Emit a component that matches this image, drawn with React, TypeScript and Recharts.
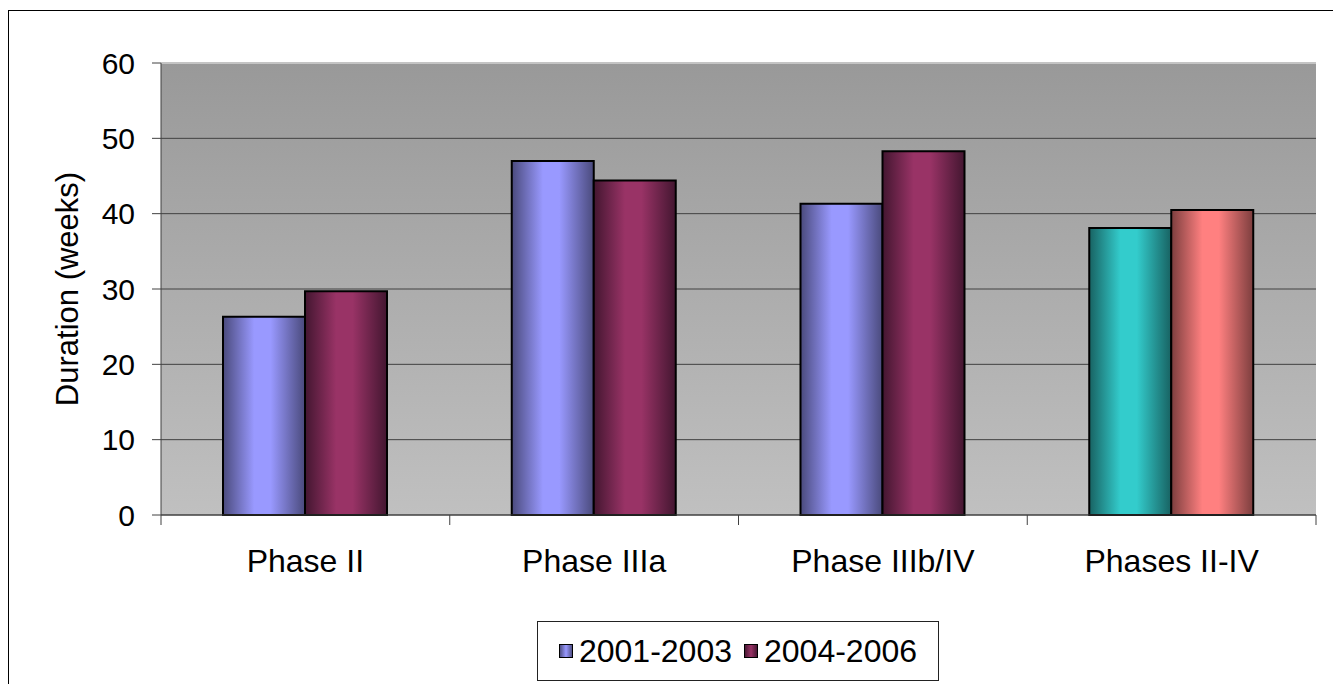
import React from "react"
import { Bar, BarChart, CartesianGrid, Cell, Legend, ReferenceLine, XAxis, YAxis } from "recharts"

const phases = ["Phase II", "Phase IIIa", "Phase IIIb/IV", "Phases II-IV"]
const period1 = [26.3, 47.0, 41.3, 38.1]
const period2 = [29.7, 44.4, 48.3, 40.5]
const seriesNames = ["2001-2003", "2004-2006"]
const yTicks = [0, 10, 20, 30, 40, 50, 60]

const data = phases.map((phase, i) => ({
  phase,
  p1: period1[i],
  p2: period2[i],
}))

const W = 1324
const H = 672
const margin = { top: 52, right: 17, left: 0, bottom: 2 }
const Y_W = 152
const PLOT_W = W - margin.left - margin.right - Y_W
const FONT = "'Liberation Sans', Arial, sans-serif"

const gradients = [
  { id: "gBlue", light: "#9999ff", dark: "#4a4a7c" },
  { id: "gRed", light: "#993366", dark: "#431630" },
  { id: "gTeal", light: "#33cccc", dark: "#186262" },
  { id: "gSalmon", light: "#ff8080", dark: "#7c3e3e" },
]

function CategoryTick(props: any) {
  const { x, y, payload, index } = props
  const half = PLOT_W / phases.length / 2
  return (
    <g>
      <line x1={x - half} x2={x - half} y1={y} y2={y + 10} stroke="#404040" />
      {index === phases.length - 1 && (
        <line x1={x + half} x2={x + half} y1={y} y2={y + 10} stroke="#404040" />
      )}
      <text x={x} y={y + 57} textAnchor="middle" fontSize={32} fill="#000" fontFamily={FONT}>
        {payload.value}
      </text>
    </g>
  )
}

function YLabel(props: any) {
  const { viewBox } = props
  const cx = viewBox.x + 58
  const cy = viewBox.y + viewBox.height / 2
  return (
    <text
      x={cx}
      y={cy}
      transform={`rotate(-90 ${cx} ${cy})`}
      textAnchor="middle"
      dominantBaseline="central"
      fontSize={31}
      fill="#000"
      fontFamily={FONT}
    >
      Duration (weeks)
    </text>
  )
}

function LegendBox() {
  const swatch = (g: string) => (
    <svg width={14} height={14} style={{ marginRight: 6 }}>
      <rect x={0.5} y={0.5} width={13} height={13} fill={`url(#${g}L)`} stroke="#000" />
      <defs>
        <linearGradient id={`${g}L`} x1="0" y1="0" x2="1" y2="0">
          {gradients
            .filter((d) => d.id === g)
            .map((d) => [
              <stop key="a" offset="0%" stopColor={d.dark} />,
              <stop key="b" offset="50%" stopColor={d.light} />,
              <stop key="c" offset="100%" stopColor={d.dark} />,
            ])}
        </linearGradient>
      </defs>
    </svg>
  )
  return (
    <div
      style={{
        boxSizing: "border-box",
        width: 402,
        height: 60,
        border: "1px solid #222",
        background: "#fff",
        display: "flex",
        alignItems: "center",
        justifyContent: "center",
        fontFamily: FONT,
        fontSize: 32,
        color: "#000",
      }}
    >
      {swatch("gBlue")}
      <span style={{ marginRight: 12 }}>{seriesNames[0]}</span>
      {swatch("gRed")}
      <span>{seriesNames[1]}</span>
    </div>
  )
}

export default function App() {
  return (
    <div
      style={{
        position: "fixed",
        left: 8,
        top: 10,
        width: 1340,
        height: 700,
        border: "1px solid #000",
        background: "#fff",
        fontFamily: FONT,
      }}
    >
      <BarChart width={W} height={H} data={data} margin={margin} barCategoryGap={62} barGap={0}>
        <defs>
          <linearGradient id="bgGrad" x1="0" y1="0" x2="0" y2="1">
            <stop offset="0%" stopColor="#999999" />
            <stop offset="100%" stopColor="#c0c0c0" />
          </linearGradient>
          {gradients.map((g) => (
            <linearGradient key={g.id} id={g.id} x1="0" y1="0" x2="1" y2="0">
              <stop offset="0%" stopColor={g.dark} />
              <stop offset="38%" stopColor={g.light} />
              <stop offset="58%" stopColor={g.light} />
              <stop offset="100%" stopColor={g.dark} />
            </linearGradient>
          ))}
        </defs>
        <CartesianGrid vertical={false} stroke="#404040" fill="url(#bgGrad)" fillOpacity={1} />
        <ReferenceLine y={60} stroke="#c4c4c4" strokeWidth={2} />
        <XAxis
          dataKey="phase"
          height={106}
          interval={0}
          tickLine={false}
          tickSize={0}
          tickMargin={0}
          axisLine={{ stroke: "#404040" }}
          tick={<CategoryTick />}
        />
        <YAxis
          width={Y_W}
          domain={[0, 60]}
          ticks={yTicks}
          interval={0}
          tickSize={9}
          tickMargin={17}
          axisLine={{ stroke: "#404040" }}
          tickLine={{ stroke: "#404040" }}
          tick={{ fontSize: 30, fill: "#000", fontFamily: FONT }}
          label={<YLabel />}
        />
        <Legend
          verticalAlign="bottom"
          align="left"
          width={402}
          height={60}
          wrapperStyle={{ left: 528, bottom: 2, width: 402, height: 60 }}
          content={() => <LegendBox />}
        />
        <Bar dataKey="p1" name={seriesNames[0]} stroke="#000" strokeWidth={2} isAnimationActive={false}>
          {data.map((_, i) => (
            <Cell key={i} fill={i === 3 ? "url(#gTeal)" : "url(#gBlue)"} />
          ))}
        </Bar>
        <Bar dataKey="p2" name={seriesNames[1]} stroke="#000" strokeWidth={2} isAnimationActive={false}>
          {data.map((_, i) => (
            <Cell key={i} fill={i === 3 ? "url(#gSalmon)" : "url(#gRed)"} />
          ))}
        </Bar>
      </BarChart>
    </div>
  )
}
